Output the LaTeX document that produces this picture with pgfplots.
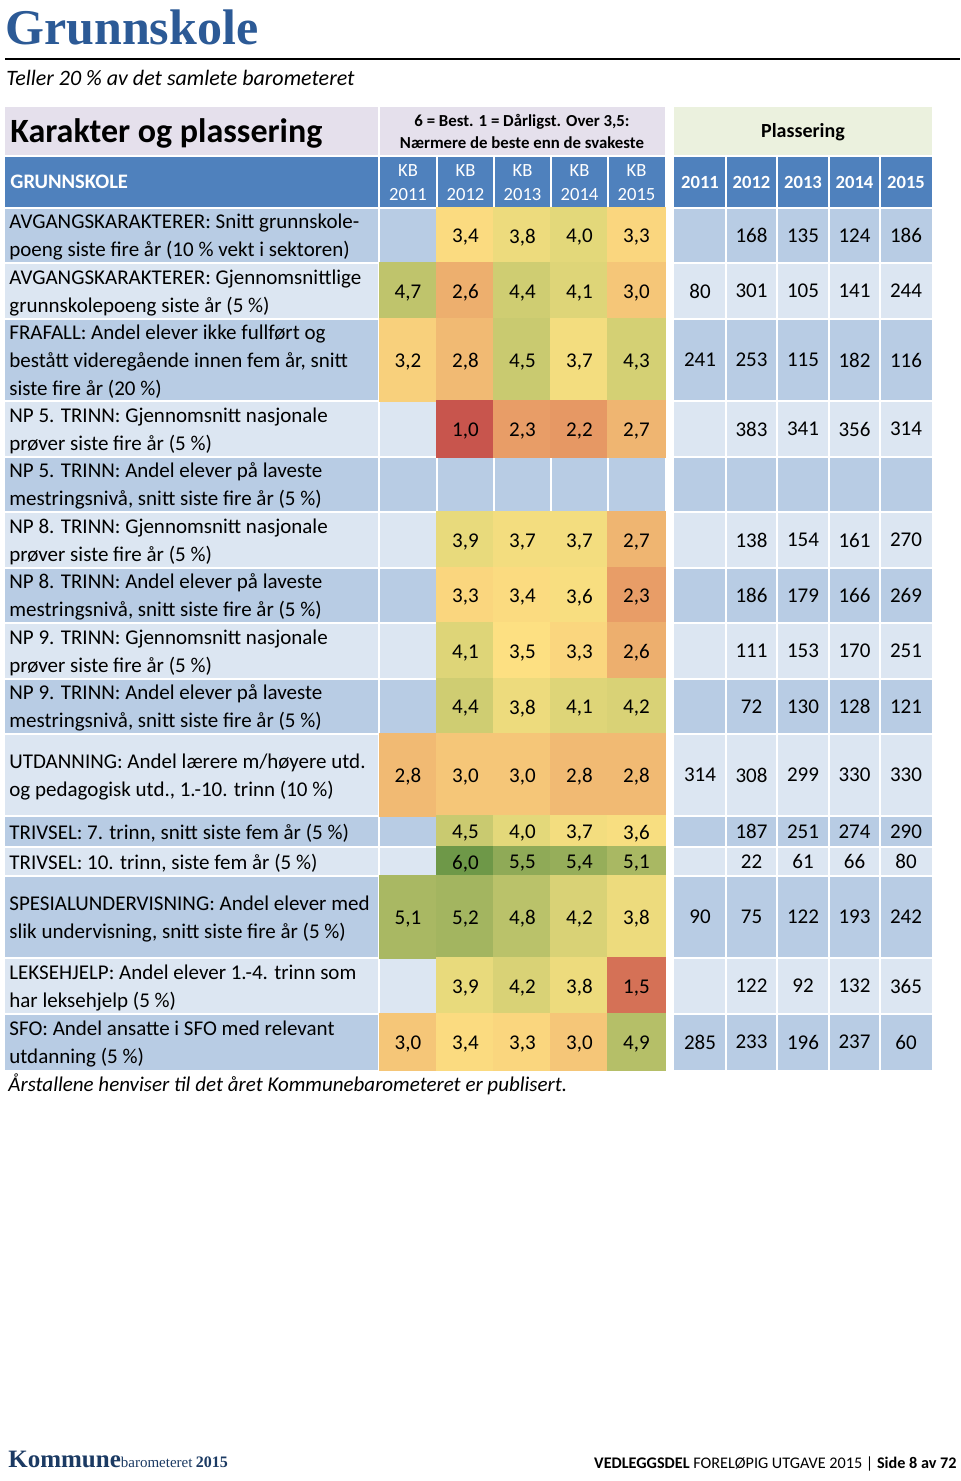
\documentclass[border=0pt]{standalone}
\usepackage{pgfplots}
\pgfplotsset{compat=1.18}
\usepackage{pgfplotstable}
\usepackage{fontspec}
\setmainfont{Carlito}
\newfontfamily\serifb{Liberation Serif}

\definecolor{hdrblue}{RGB}{79,129,189}
\definecolor{bandA}{RGB}{184,204,228}
\definecolor{bandB}{RGB}{220,230,242}
\definecolor{lavender}{RGB}{229,224,236}
\definecolor{palegreen}{RGB}{235,241,222}
\definecolor{titleblue}{RGB}{44,90,150}
\definecolor{navy}{RGB}{27,58,99}
% colour scale stops (grade 1, 2, 3, 3.5, 4, 5, 6)
\definecolor{cA}{RGB}{200,85,77}
\definecolor{cB}{RGB}{226,140,95}
\definecolor{cC}{RGB}{245,198,120}
\definecolor{cD}{RGB}{253,224,130}
\definecolor{cE}{RGB}{227,216,122}
\definecolor{cF}{RGB}{176,188,102}
\definecolor{cG}{RGB}{110,152,72}

\newcommand\setcellcolor[1]{%
  \pgfmathparse{#1}\let\cvv\pgfmathresult
  \ifdim\cvv pt<2pt \pgfmathsetmacro\pp{(\cvv-1)*100}\colorlet{cellfill}{cB!\pp!cA}%
  \else\ifdim\cvv pt<3pt \pgfmathsetmacro\pp{(\cvv-2)*100}\colorlet{cellfill}{cC!\pp!cB}%
  \else\ifdim\cvv pt<3.5pt \pgfmathsetmacro\pp{(\cvv-3)*200}\colorlet{cellfill}{cD!\pp!cC}%
  \else\ifdim\cvv pt<4pt \pgfmathsetmacro\pp{(\cvv-3.5)*200}\colorlet{cellfill}{cE!\pp!cD}%
  \else\ifdim\cvv pt<5pt \pgfmathsetmacro\pp{(\cvv-4)*100}\colorlet{cellfill}{cF!\pp!cE}%
  \else \pgfmathsetmacro\pp{(\cvv-5)*100}\colorlet{cellfill}{cG!\pp!cF}%
  \fi\fi\fi\fi\fi}

\pgfdeclareplotmark{cell}{%
  \setcellcolor{\cellv}%
  \pgfsetfillcolor{cellfill}%
  \pgfpathrectanglecorners{\pgfpoint{-14.6pt}{-\cellhalf pt}}{\pgfpoint{14.6pt}{\cellhalf pt}}%
  \pgfusepath{fill}}

% KB grades: x = column centre, y = row centre, h = row height (px), v = grade
\pgfplotstableread{
x y h v
465.5 235.5 55 3.4
522.5 235.5 55 3.8
579.5 235.5 55 4.0
636.5 235.5 55 3.3
408 291 56 4.7
465.5 291 56 2.6
522.5 291 56 4.4
579.5 291 56 4.1
636.5 291 56 3.0
408 360 82 3.2
465.5 360 82 2.8
522.5 360 82 4.5
579.5 360 82 3.7
636.5 360 82 4.3
465.5 429 56 1.0
522.5 429 56 2.3
579.5 429 56 2.2
636.5 429 56 2.7
465.5 540 56 3.9
522.5 540 56 3.7
579.5 540 56 3.7
636.5 540 56 2.7
465.5 595.5 55 3.3
522.5 595.5 55 3.4
579.5 595.5 55 3.6
636.5 595.5 55 2.3
465.5 651 56 4.1
522.5 651 56 3.5
579.5 651 56 3.3
636.5 651 56 2.6
465.5 706.5 55 4.4
522.5 706.5 55 3.8
579.5 706.5 55 4.1
636.5 706.5 55 4.2
408 775 82 2.8
465.5 775 82 3.0
522.5 775 82 3.0
579.5 775 82 2.8
636.5 775 82 2.8
465.5 831.5 31 4.5
522.5 831.5 31 4.0
579.5 831.5 31 3.7
636.5 831.5 31 3.6
465.5 861.5 29 6.0
522.5 861.5 29 5.5
579.5 861.5 29 5.4
636.5 861.5 29 5.1
408 917 82 5.1
465.5 917 82 5.2
522.5 917 82 4.8
579.5 917 82 4.2
636.5 917 82 3.8
465.5 986 56 3.9
522.5 986 56 4.2
579.5 986 56 3.8
636.5 986 56 1.5
408 1042 56 3.0
465.5 1042 56 3.4
522.5 1042 56 3.3
579.5 1042 56 3.0
636.5 1042 56 4.9
}\kbdata

% Plassering (ranks)
\pgfplotstableread{
x y r
751.5 235.5 168
803 235.5 135
854.5 235.5 124
906 235.5 186
700 291 80
751.5 291 301
803 291 105
854.5 291 141
906 291 244
700 360 241
751.5 360 253
803 360 115
854.5 360 182
906 360 116
751.5 429 383
803 429 341
854.5 429 356
906 429 314
751.5 540 138
803 540 154
854.5 540 161
906 540 270
751.5 595.5 186
803 595.5 179
854.5 595.5 166
906 595.5 269
751.5 651 111
803 651 153
854.5 651 170
906 651 251
751.5 706.5 72
803 706.5 130
854.5 706.5 128
906 706.5 121
700 775 314
751.5 775 308
803 775 299
854.5 775 330
906 775 330
751.5 831.5 187
803 831.5 251
854.5 831.5 274
906 831.5 290
751.5 861.5 22
803 861.5 61
854.5 861.5 66
906 861.5 80
700 917 90
751.5 917 75
803 917 122
854.5 917 193
906 917 242
751.5 986 122
803 986 92
854.5 986 132
906 986 365
700 1042 285
751.5 1042 233
803 1042 196
854.5 1042 237
906 1042 60
}\rankdata

\newcommand\band[3]{%
  \fill[#3] (axis cs:5,#1) rectangle (axis cs:665,#2);
  \fill[#3] (axis cs:674,#1) rectangle (axis cs:932,#2);}
\newcommand\gridv[1]{\draw[white, line width=1pt] (axis cs:#1,156) -- (axis cs:#1,1070);}
\newcommand\gridh[1]{\draw[white, line width=1pt] (axis cs:5,#1) -- (axis cs:665,#1);
  \draw[white, line width=1pt] (axis cs:674,#1) -- (axis cs:932,#1);}
\newcommand\kbhead[2]{\node[anchor=center, align=center, inner sep=0pt, text=white, font=\fontsize{9.3}{12}\selectfont] at (axis cs:#1,183) {KB\\#2};}
\newcommand\plhead[2]{\node[anchor=center, inner sep=0pt, text=white, font=\bfseries\fontsize{9.3}{12}\selectfont] at (axis cs:#1,182) {#2};}
\newcommand\lbl{\fontsize{10.5}{14}\selectfont}
\tikzset{rowlbl/.style={anchor=west, align=left, inner sep=0pt, font=\lbl, yshift=-0.8pt}}

\begin{document}
\begin{tikzpicture}
\begin{axis}[
  x=0.5pt, y=0.5pt, y dir=reverse,
  xmin=0, xmax=960, ymin=0, ymax=1481,
  hide axis, clip=false, scale only axis,
]
\fill[white] (axis cs:0,0) rectangle (axis cs:960,1481);

% header backgrounds
\fill[lavender] (axis cs:5,107) rectangle (axis cs:665,156);
\fill[palegreen] (axis cs:674,107) rectangle (axis cs:932,156);
\band{156}{208}{hdrblue}
% row bands
\band{208}{263}{bandA}
\band{263}{319}{bandB}
\band{319}{401}{bandA}
\band{401}{457}{bandB}
\band{457}{512}{bandA}
\band{512}{568}{bandB}
\band{568}{623}{bandA}
\band{623}{679}{bandB}
\band{679}{734}{bandA}
\band{734}{816}{bandB}
\band{816}{847}{bandA}
\band{847}{876}{bandB}
\band{876}{958}{bandA}
\band{958}{1014}{bandB}
\band{1014}{1070}{bandA}

% coloured grade cells
\addplot[only marks, mark=cell,
  point meta=\thisrow{v},
  visualization depends on={\thisrow{h}*0.25+0.3 \as \cellhalf},
  visualization depends on={\thisrow{v} \as \cellv},
  nodes near coords={\pgfmathprintnumber[fixed,fixed zerofill,precision=1,use comma,assume math mode=true]{\pgfplotspointmeta}},
  every node near coord/.style={font=\fontsize{10.5}{12}\selectfont, text=black, anchor=center, inner sep=0pt, yshift=-1pt},
] table[x=x, y=y] \kbdata;

% white grid
\gridv{379}\gridv{437}\gridv{494}\gridv{551}\gridv{608}
\gridv{726}\gridv{777}\gridv{829}\gridv{880}
\draw[white, line width=1pt] (axis cs:379,107) -- (axis cs:379,156);
\gridh{156}\gridh{208}\gridh{263}\gridh{319}\gridh{401}\gridh{457}\gridh{512}\gridh{568}
\gridh{623}\gridh{679}\gridh{734}\gridh{816}\gridh{847}\gridh{876}\gridh{958}\gridh{1014}

% ranks
\addplot[only marks, mark=none, point meta=explicit symbolic,
  nodes near coords,
  every node near coord/.style={font=\fontsize{10.5}{12}\selectfont, text=black, anchor=center, inner sep=0pt},
] table[x=x, y=y, meta=r] \rankdata;

% titles
\node[anchor=base west, inner sep=0pt, text=titleblue, font=\serifb\bfseries\fontsize{25}{25}\selectfont] at (axis cs:5,45) {Grunnskole};
\draw[black, line width=0.8pt] (axis cs:5,59) -- (axis cs:960,59);
\node[anchor=base west, inner sep=0pt, font=\itshape\fontsize{11}{13}\selectfont] at (axis cs:6,86) {Teller 20 \% av det samlete barometeret};

% header texts
\node[anchor=west, inner sep=0pt, font=\bfseries\fontsize{17}{19}\selectfont] at (axis cs:10,133) {Karakter og plassering};
\node[anchor=center, align=center, inner sep=0pt, font=\bfseries\fontsize{8.4}{11}\selectfont] at (axis cs:522,131) {6 = Best. 1 = Dårligst. Over 3,5:\\Nærmere de beste enn de svakeste};
\node[anchor=center, inner sep=0pt, font=\bfseries\fontsize{10}{12}\selectfont] at (axis cs:803,132) {Plassering};
\node[anchor=west, inner sep=0pt, text=white, font=\bfseries\fontsize{10.3}{12}\selectfont] at (axis cs:10,182) {GRUNNSKOLE};
\kbhead{408}{2011}\kbhead{465.5}{2012}\kbhead{522.5}{2013}\kbhead{579.5}{2014}\kbhead{636.5}{2015}
\plhead{700}{2011}\plhead{751.5}{2012}\plhead{803}{2013}\plhead{854.5}{2014}\plhead{906}{2015}

% row labels
\node[rowlbl] at (axis cs:9,235.5) {AVGANGSKARAKTERER: Snitt grunnskole-\\poeng siste fire år (10 \% vekt i sektoren)};
\node[rowlbl] at (axis cs:9,291) {AVGANGSKARAKTERER: Gjennomsnittlige\\grunnskolepoeng siste år (5 \%)};
\node[rowlbl] at (axis cs:9,360) {FRAFALL: Andel elever ikke fullført og\\bestått videregående innen fem år, snitt\\siste fire år (20 \%)};
\node[rowlbl] at (axis cs:9,429) {NP 5. TRINN: Gjennomsnitt nasjonale\\prøver siste fire år (5 \%)};
\node[rowlbl] at (axis cs:9,484.5) {NP 5. TRINN: Andel elever på laveste\\mestringsnivå, snitt siste fire år (5 \%)};
\node[rowlbl] at (axis cs:9,540) {NP 8. TRINN: Gjennomsnitt nasjonale\\prøver siste fire år (5 \%)};
\node[rowlbl] at (axis cs:9,595.5) {NP 8. TRINN: Andel elever på laveste\\mestringsnivå, snitt siste fire år (5 \%)};
\node[rowlbl] at (axis cs:9,651) {NP 9. TRINN: Gjennomsnitt nasjonale\\prøver siste fire år (5 \%)};
\node[rowlbl] at (axis cs:9,706.5) {NP 9. TRINN: Andel elever på laveste\\mestringsnivå, snitt siste fire år (5 \%)};
\node[rowlbl] at (axis cs:9,775) {UTDANNING: Andel lærere m/høyere utd.\\og pedagogisk utd., 1.-10. trinn (10 \%)};
\node[rowlbl] at (axis cs:9,831.5) {TRIVSEL: 7. trinn, snitt siste fem år (5 \%)};
\node[rowlbl] at (axis cs:9,861.5) {TRIVSEL: 10. trinn, siste fem år (5 \%)};
\node[rowlbl] at (axis cs:9,917) {SPESIALUNDERVISNING: Andel elever med\\slik undervisning, snitt siste fire år (5 \%)};
\node[rowlbl] at (axis cs:9,986) {LEKSEHJELP: Andel elever 1.-4. trinn som\\har leksehjelp (5 \%)};
\node[rowlbl] at (axis cs:9,1042) {SFO: Andel ansatte i SFO med relevant\\utdanning (5 \%)};

\node[anchor=base west, inner sep=0pt, font=\itshape\fontsize{10.5}{12}\selectfont] at (axis cs:8,1091) {Årstallene henviser til det året Kommunebarometeret er publisert.};

% footer
\node[anchor=base west, inner sep=0pt, text=navy] at (axis cs:8,1467) {{\serifb\bfseries\fontsize{12.5}{12}\selectfont Kommune}{\serifb\fontsize{7.5}{8}\selectfont barometeret}\,{\serifb\bfseries\fontsize{8}{8}\selectfont 2015}};
\node[anchor=base east, inner sep=0pt, font=\fontsize{8.1}{9}\selectfont] at (axis cs:957,1468) {\textbf{VEDLEGGSDEL} FORELØPIG UTGAVE 2015 | \textbf{Side 8 av 72}};
\end{axis}
\end{tikzpicture}
\end{document}
